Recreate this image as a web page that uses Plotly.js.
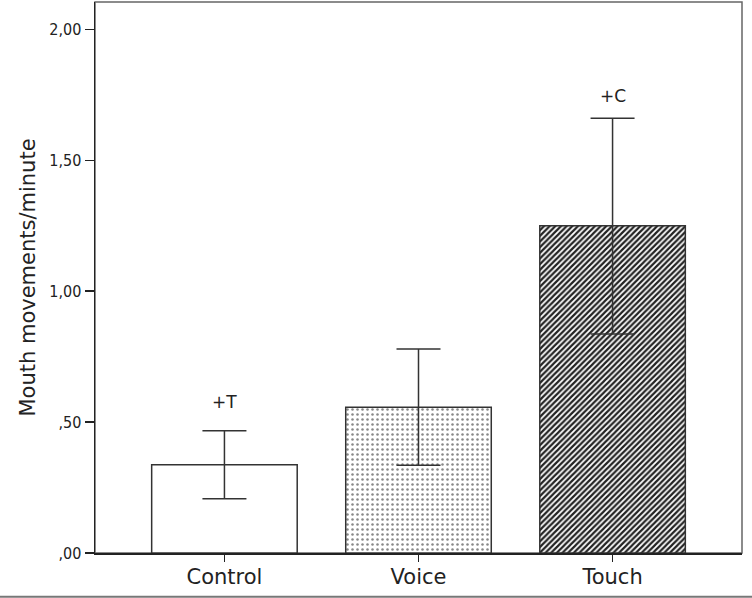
<!DOCTYPE html>
<html>
<head>
<meta charset="utf-8">
<script src="https://cdn.plot.ly/plotly-3.0.1.min.js"></script>
<style>html,body{margin:0;padding:0;background:#fff;}#chart{width:752px;height:598px;}</style>
</head>
<body>
<div id="chart"></div>
<script>
const categories = ["Control", "Voice", "Touch"];
const means = [0.337, 0.557, 1.250];
const upper = [0.467, 0.779, 1.661];
const lower = [0.207, 0.335, 0.837];
const sigLabels = ["+T", "", "+C"];
const sigLabelY = [0.578, null, 1.747];
const yTickVals = [0, 0.5, 1.0, 1.5, 2.0];
const yTickText = [",00", ",50", "1,00", "1,50", "2,00"];
const patterns = ["", ".", "/"];

const trace = {
  type: "bar",
  x: categories,
  y: means,
  marker: {
    color: "#ffffff",
    line: {color: "#333333", width: 1.5},
    pattern: {shape: patterns, fgcolor: ["#444444", "#888888", "#222222"], bgcolor: "#ffffff", size: [5, 5, 4], solidity: [0.3, 0.2, 0.55]}
  },
  error_y: {
    type: "data",
    symmetric: false,
    array: upper.map((u, i) => u - means[i]),
    arrayminus: lower.map((l, i) => means[i] - l),
    color: "#333333",
    thickness: 1.5,
    width: 22
  },
  hoverinfo: "skip"
};

const annotations = [];
categories.forEach((c, i) => {
  if (sigLabels[i]) {
    annotations.push({
      x: c, y: sigLabelY[i], xref: "x", yref: "y",
      text: sigLabels[i], showarrow: false,
      font: {family: "DejaVu Sans", size: 17, color: "#222"},
      yanchor: "middle"
    });
  }
});

const layout = {
  width: 752, height: 598,
  margin: {l: 95, r: 10, t: 2, b: 45},
  paper_bgcolor: "#ffffff",
  plot_bgcolor: "#ffffff",
  showlegend: false,
  bargap: 0.25,
  xaxis: {
    range: [-0.667, 2.667],
    showline: true, linecolor: "#222", linewidth: 1.5,
    ticks: "outside", ticklen: 7, tickcolor: "#222", tickwidth: 1.5,
    ticklabelstandoff: -3,
    tickfont: {family: "DejaVu Sans", size: 21, color: "#222"},
    showgrid: false, zeroline: false, fixedrange: true
  },
  yaxis: {
    range: [0, 2.105],
    showline: true, linecolor: "#222", linewidth: 1.5,
    ticks: "outside", ticklen: 9, tickcolor: "#222", tickwidth: 1.5,
    tickvals: yTickVals, ticktext: yTickText,
    tickfont: {family: "DejaVu Sans Condensed, DejaVu Sans", size: 16, color: "#222"},
    showgrid: false, zeroline: false,
    title: {text: "Mouth movements/minute", font: {family: "DejaVu Sans", size: 21, color: "#222"}, standoff: 8},
    automargin: false
  },
  annotations: annotations,
  shapes: [
    {type: "rect", xref: "paper", yref: "paper", x0: 0, x1: 1, y0: 0, y1: 1, line: {color: "#666", width: 1.5}, layer: "below"},
    {type: "line", xref: "paper", yref: "paper", x0: -0.147, x1: 1.016, y0: -0.0795, y1: -0.0795, line: {color: "#777", width: 2}}
  ]
};

Plotly.newPlot("chart", [trace], layout, {displayModeBar: false, staticPlot: true});
</script>
</body>
</html>
